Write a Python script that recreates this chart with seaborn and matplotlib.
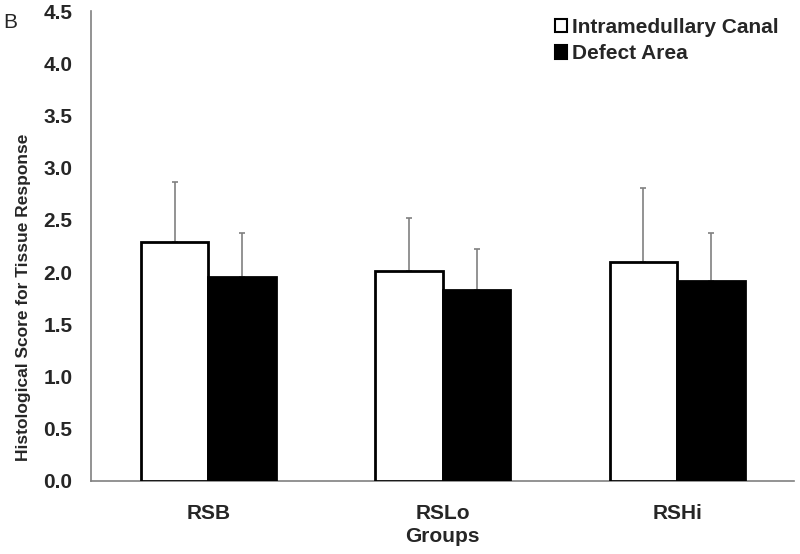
import matplotlib
matplotlib.use("Agg")
import matplotlib.pyplot as plt
import seaborn as sns
import pandas as pd
import numpy as np

# data
groups   = ["RSB", "RSLo", "RSHi"]
regions  = ["Intramedullary Canal", "Defect Area"]
canal    = [2.29, 2.01, 2.10]
defect   = [1.95, 1.83, 1.91]
canal_sd = [0.57, 0.51, 0.71]
defect_sd = [0.42, 0.39, 0.46]

df = pd.DataFrame({
    "group":  groups * 2,
    "region": [regions[0]] * 3 + [regions[1]] * 3,
    "score":  canal + defect,
    "sd":     canal_sd + defect_sd,
})

sns.set_style("white")
plt.rcParams["font.family"] = ["Liberation Sans", "DejaVu Sans"]

fig = plt.figure(figsize=(8, 5.54), dpi=100)
ax = fig.add_axes([0.114, 0.132, 0.879, 0.848])

sns.barplot(data=df, x="group", y="score", hue="region", order=groups,
            hue_order=regions, palette=["white", "black"], errorbar=None,
            width=0.577, edgecolor="black", linewidth=2, ax=ax, zorder=3)

# upper-only error bars at the bar centres
for cont, reg in zip(ax.containers, regions):
    sub = df[df.region == reg].set_index("group").loc[groups]
    xs = [p.get_x() + p.get_width() / 2 for p in cont.patches]
    ax.errorbar(xs, sub["score"], yerr=[np.zeros(3), sub["sd"]], fmt="none",
                ecolor="#808080", elinewidth=1.2, capsize=2, capthick=1.2, zorder=2)

ax.set_ylim(0, 4.5)
ax.set_xlim(-0.5, 2.5)
ax.set_yticks(np.arange(0, 4.51, 0.5))
ax.set_yticklabels([f"{v:.1f}" for v in np.arange(0, 4.51, 0.5)],
                   fontsize=15, fontweight="bold")
ax.set_xticks(range(3))
ax.set_xticklabels(groups, fontsize=15, fontweight="bold")
ax.set_xticks([0.5, 1.5, 2.5], minor=True)
ax.tick_params(axis="x", which="major", length=0, pad=17)
ax.tick_params(axis="x", which="minor", length=5, color="#808080", width=1.2, direction="out")
ax.tick_params(axis="y", length=4.5, color="#808080", width=1.2, direction="out", pad=9)
ax.set_xlabel("Groups", fontsize=15, fontweight="bold")
ax.xaxis.set_label_coords(0.5, -0.098)
ax.set_ylabel("Histological Score for Tissue Response", fontsize=12.5,
              fontweight="bold")
ax.yaxis.set_label_coords(-0.086, 0.39)

for s in ["top", "right"]:
    ax.spines[s].set_visible(False)
for s in ["left", "bottom"]:
    ax.spines[s].set_color("#808080")
    ax.spines[s].set_linewidth(1.2)

leg = ax.legend(loc="upper left", bbox_to_anchor=(0.659, 0.985), frameon=False,
                borderaxespad=0, borderpad=0,
                prop={"size": 15, "weight": "bold"}, handlelength=0.6,
                handleheight=0.6, handletextpad=0.25, labelspacing=0.35)
for h in leg.legend_handles:
    h.set_linewidth(1.5)

fig.text(0.004, 0.949, "B", fontsize=15)

fig.savefig("out.png", dpi=100)
